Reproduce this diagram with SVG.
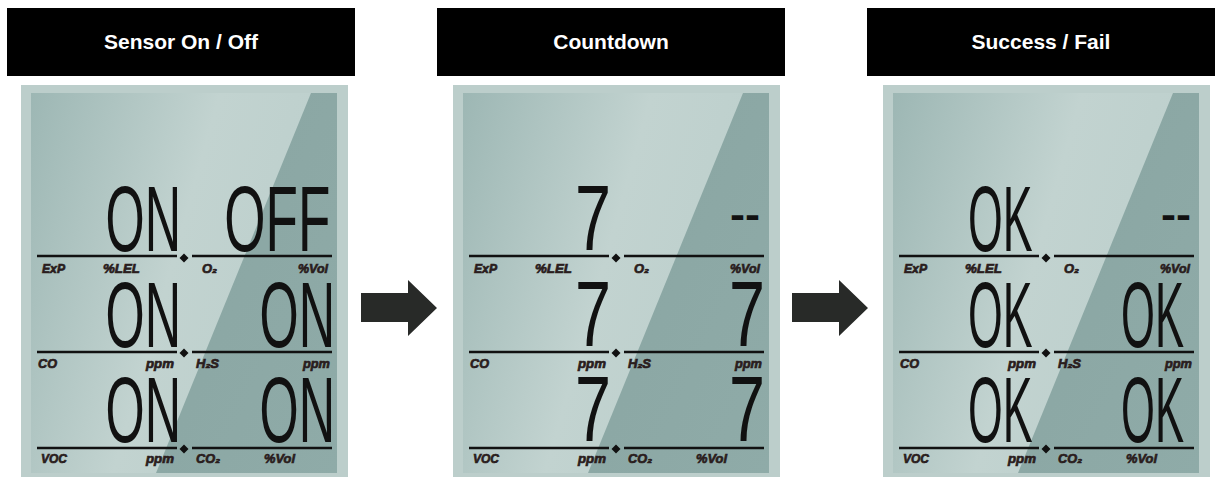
<svg xmlns="http://www.w3.org/2000/svg" xmlns:xlink="http://www.w3.org/1999/xlink" width="1220" height="477" viewBox="0 0 1220 477">
<style>
.hdr{fill:#000}
.htxt{font-family:"Liberation Sans",Arial,sans-serif;font-weight:bold;font-size:21px;fill:#fff;text-anchor:middle}
.seg{font-family:"Liberation Sans",Arial,sans-serif;font-size:92px;fill:#111}
.dash{font-family:"Liberation Sans",Arial,sans-serif;font-weight:bold;font-size:40px;fill:#111}
.lbl{font-family:"Liberation Sans","DejaVu Sans",Arial,sans-serif;font-weight:900;font-style:italic;font-size:13px;fill:#2a1d1d;stroke:#2a1d1d;stroke-width:0.7}
.rule{stroke:#111;stroke-width:2.5}
.arrow{fill:#282a28}
</style>
<defs>
<linearGradient id="lcdL" x1="0" y1="0" x2="1" y2="0.35">
<stop offset="0" stop-color="#9db7b4"/>
<stop offset="0.55" stop-color="#c2d3d0"/>
<stop offset="1" stop-color="#bccfcc"/>
</linearGradient>
<linearGradient id="lcdR" x1="0" y1="0" x2="1" y2="1">
<stop offset="0" stop-color="#89a5a2"/>
<stop offset="1" stop-color="#8fabA8"/>
</linearGradient>
<g id="lcdbg">
<rect x="21" y="85" width="327" height="392" fill="#bccecb"/>
<rect x="31" y="93" width="306" height="380" fill="url(#lcdL)"/>
<polygon points="311,93 337,93 337,473 156,473" fill="url(#lcdR)"/>
<line class="rule" x1="37" y1="256" x2="177" y2="256"/>
<line class="rule" x1="192" y1="256" x2="332" y2="256"/>
<line class="rule" x1="37" y1="352" x2="177" y2="352"/>
<line class="rule" x1="192" y1="352" x2="332" y2="352"/>
<line class="rule" x1="37" y1="448" x2="177" y2="448"/>
<line class="rule" x1="192" y1="448" x2="332" y2="448"/>
<polygon points="184,253.5 188.5,258 184,262.5 179.5,258" fill="#111"/>
<polygon points="184,348.5 188.5,353 184,357.5 179.5,353" fill="#111"/>
<polygon points="184,444.5 188.5,449 184,453.5 179.5,449" fill="#111"/>
</g>
</defs>
<rect width="1220" height="477" fill="#fff"/>

<g id="panel-sensor">
<rect class="hdr" x="7" y="8" width="348" height="68"/>
<text class="htxt" x="181" y="49">Sensor On / Off</text>
<use xlink:href="#lcdbg"/>
<text class="seg" x="105.5" y="251" textLength="75.5" lengthAdjust="spacingAndGlyphs">ON</text>
<text class="seg" x="224.3" y="251" textLength="106" lengthAdjust="spacingAndGlyphs">OFF</text>
<text class="seg" x="105.5" y="347" textLength="75.5" lengthAdjust="spacingAndGlyphs">ON</text>
<text class="seg" x="259.5" y="347" textLength="75.5" lengthAdjust="spacingAndGlyphs">ON</text>
<text class="seg" x="105.5" y="442" textLength="75.5" lengthAdjust="spacingAndGlyphs">ON</text>
<text class="seg" x="259.5" y="442" textLength="75.5" lengthAdjust="spacingAndGlyphs">ON</text>
<text class="lbl" x="42" y="273" textLength="23" lengthAdjust="spacingAndGlyphs">ExP</text>
<text class="lbl" x="103" y="273" textLength="37" lengthAdjust="spacingAndGlyphs">%LEL</text>
<text class="lbl" x="202" y="273" textLength="15" lengthAdjust="spacingAndGlyphs">O₂</text>
<text class="lbl" x="298" y="273" textLength="30" lengthAdjust="spacingAndGlyphs">%Vol</text>
<text class="lbl" x="38" y="368" textLength="19" lengthAdjust="spacingAndGlyphs">CO</text>
<text class="lbl" x="146" y="368" textLength="28" lengthAdjust="spacingAndGlyphs">ppm</text>
<text class="lbl" x="196" y="368" textLength="23" lengthAdjust="spacingAndGlyphs">H₂S</text>
<text class="lbl" x="303" y="368" textLength="27" lengthAdjust="spacingAndGlyphs">ppm</text>
<text class="lbl" x="41" y="463" textLength="26" lengthAdjust="spacingAndGlyphs">VOC</text>
<text class="lbl" x="146" y="463" textLength="28" lengthAdjust="spacingAndGlyphs">ppm</text>
<text class="lbl" x="196" y="463" textLength="24" lengthAdjust="spacingAndGlyphs">CO₂</text>
<text class="lbl" x="264" y="463" textLength="31" lengthAdjust="spacingAndGlyphs">%Vol</text>
</g>

<g id="panel-countdown">
<rect class="hdr" x="437" y="8" width="348" height="68"/>
<text class="htxt" x="611" y="49">Countdown</text>
<use xlink:href="#lcdbg" transform="translate(432,0)"/>
<text class="seg" x="575" y="250" textLength="36" lengthAdjust="spacingAndGlyphs">7</text>
<text class="dash" x="730" y="228" textLength="30" lengthAdjust="spacingAndGlyphs">--</text>
<text class="seg" x="575" y="346" textLength="36" lengthAdjust="spacingAndGlyphs">7</text>
<text class="seg" x="729" y="346" textLength="36" lengthAdjust="spacingAndGlyphs">7</text>
<text class="seg" x="575" y="441" textLength="36" lengthAdjust="spacingAndGlyphs">7</text>
<text class="seg" x="729" y="441" textLength="36" lengthAdjust="spacingAndGlyphs">7</text>
<text class="lbl" x="474" y="273" textLength="23" lengthAdjust="spacingAndGlyphs">ExP</text>
<text class="lbl" x="535" y="273" textLength="37" lengthAdjust="spacingAndGlyphs">%LEL</text>
<text class="lbl" x="634" y="273" textLength="15" lengthAdjust="spacingAndGlyphs">O₂</text>
<text class="lbl" x="730" y="273" textLength="30" lengthAdjust="spacingAndGlyphs">%Vol</text>
<text class="lbl" x="470" y="368" textLength="19" lengthAdjust="spacingAndGlyphs">CO</text>
<text class="lbl" x="578" y="368" textLength="28" lengthAdjust="spacingAndGlyphs">ppm</text>
<text class="lbl" x="628" y="368" textLength="23" lengthAdjust="spacingAndGlyphs">H₂S</text>
<text class="lbl" x="735" y="368" textLength="27" lengthAdjust="spacingAndGlyphs">ppm</text>
<text class="lbl" x="473" y="463" textLength="26" lengthAdjust="spacingAndGlyphs">VOC</text>
<text class="lbl" x="578" y="463" textLength="28" lengthAdjust="spacingAndGlyphs">ppm</text>
<text class="lbl" x="628" y="463" textLength="24" lengthAdjust="spacingAndGlyphs">CO₂</text>
<text class="lbl" x="696" y="463" textLength="31" lengthAdjust="spacingAndGlyphs">%Vol</text>
</g>

<g id="panel-result">
<rect class="hdr" x="867" y="8" width="348" height="68"/>
<text class="htxt" x="1041" y="49">Success / Fail</text>
<use xlink:href="#lcdbg" transform="translate(862,0)"/>
<text class="seg" x="968" y="251" textLength="64.5" lengthAdjust="spacingAndGlyphs">OK</text>
<text class="dash" x="1161" y="228" textLength="30" lengthAdjust="spacingAndGlyphs">--</text>
<text class="seg" x="968" y="347" textLength="64.5" lengthAdjust="spacingAndGlyphs">OK</text>
<text class="seg" x="1121" y="347" textLength="63" lengthAdjust="spacingAndGlyphs">OK</text>
<text class="seg" x="968" y="442" textLength="64.5" lengthAdjust="spacingAndGlyphs">OK</text>
<text class="seg" x="1121" y="442" textLength="63" lengthAdjust="spacingAndGlyphs">OK</text>
<text class="lbl" x="904" y="273" textLength="23" lengthAdjust="spacingAndGlyphs">ExP</text>
<text class="lbl" x="965" y="273" textLength="37" lengthAdjust="spacingAndGlyphs">%LEL</text>
<text class="lbl" x="1064" y="273" textLength="15" lengthAdjust="spacingAndGlyphs">O₂</text>
<text class="lbl" x="1160" y="273" textLength="30" lengthAdjust="spacingAndGlyphs">%Vol</text>
<text class="lbl" x="900" y="368" textLength="19" lengthAdjust="spacingAndGlyphs">CO</text>
<text class="lbl" x="1008" y="368" textLength="28" lengthAdjust="spacingAndGlyphs">ppm</text>
<text class="lbl" x="1058" y="368" textLength="23" lengthAdjust="spacingAndGlyphs">H₂S</text>
<text class="lbl" x="1165" y="368" textLength="27" lengthAdjust="spacingAndGlyphs">ppm</text>
<text class="lbl" x="903" y="463" textLength="26" lengthAdjust="spacingAndGlyphs">VOC</text>
<text class="lbl" x="1008" y="463" textLength="28" lengthAdjust="spacingAndGlyphs">ppm</text>
<text class="lbl" x="1058" y="463" textLength="24" lengthAdjust="spacingAndGlyphs">CO₂</text>
<text class="lbl" x="1126" y="463" textLength="31" lengthAdjust="spacingAndGlyphs">%Vol</text>
</g>

<g id="connectors">
<polygon class="arrow" points="361,293 408,293 408,280 437,308 408,336 408,322 361,322"/>
<polygon class="arrow" points="792,293 839,293 839,280 868,308 839,336 839,322 792,322"/>
</g>
</svg>
